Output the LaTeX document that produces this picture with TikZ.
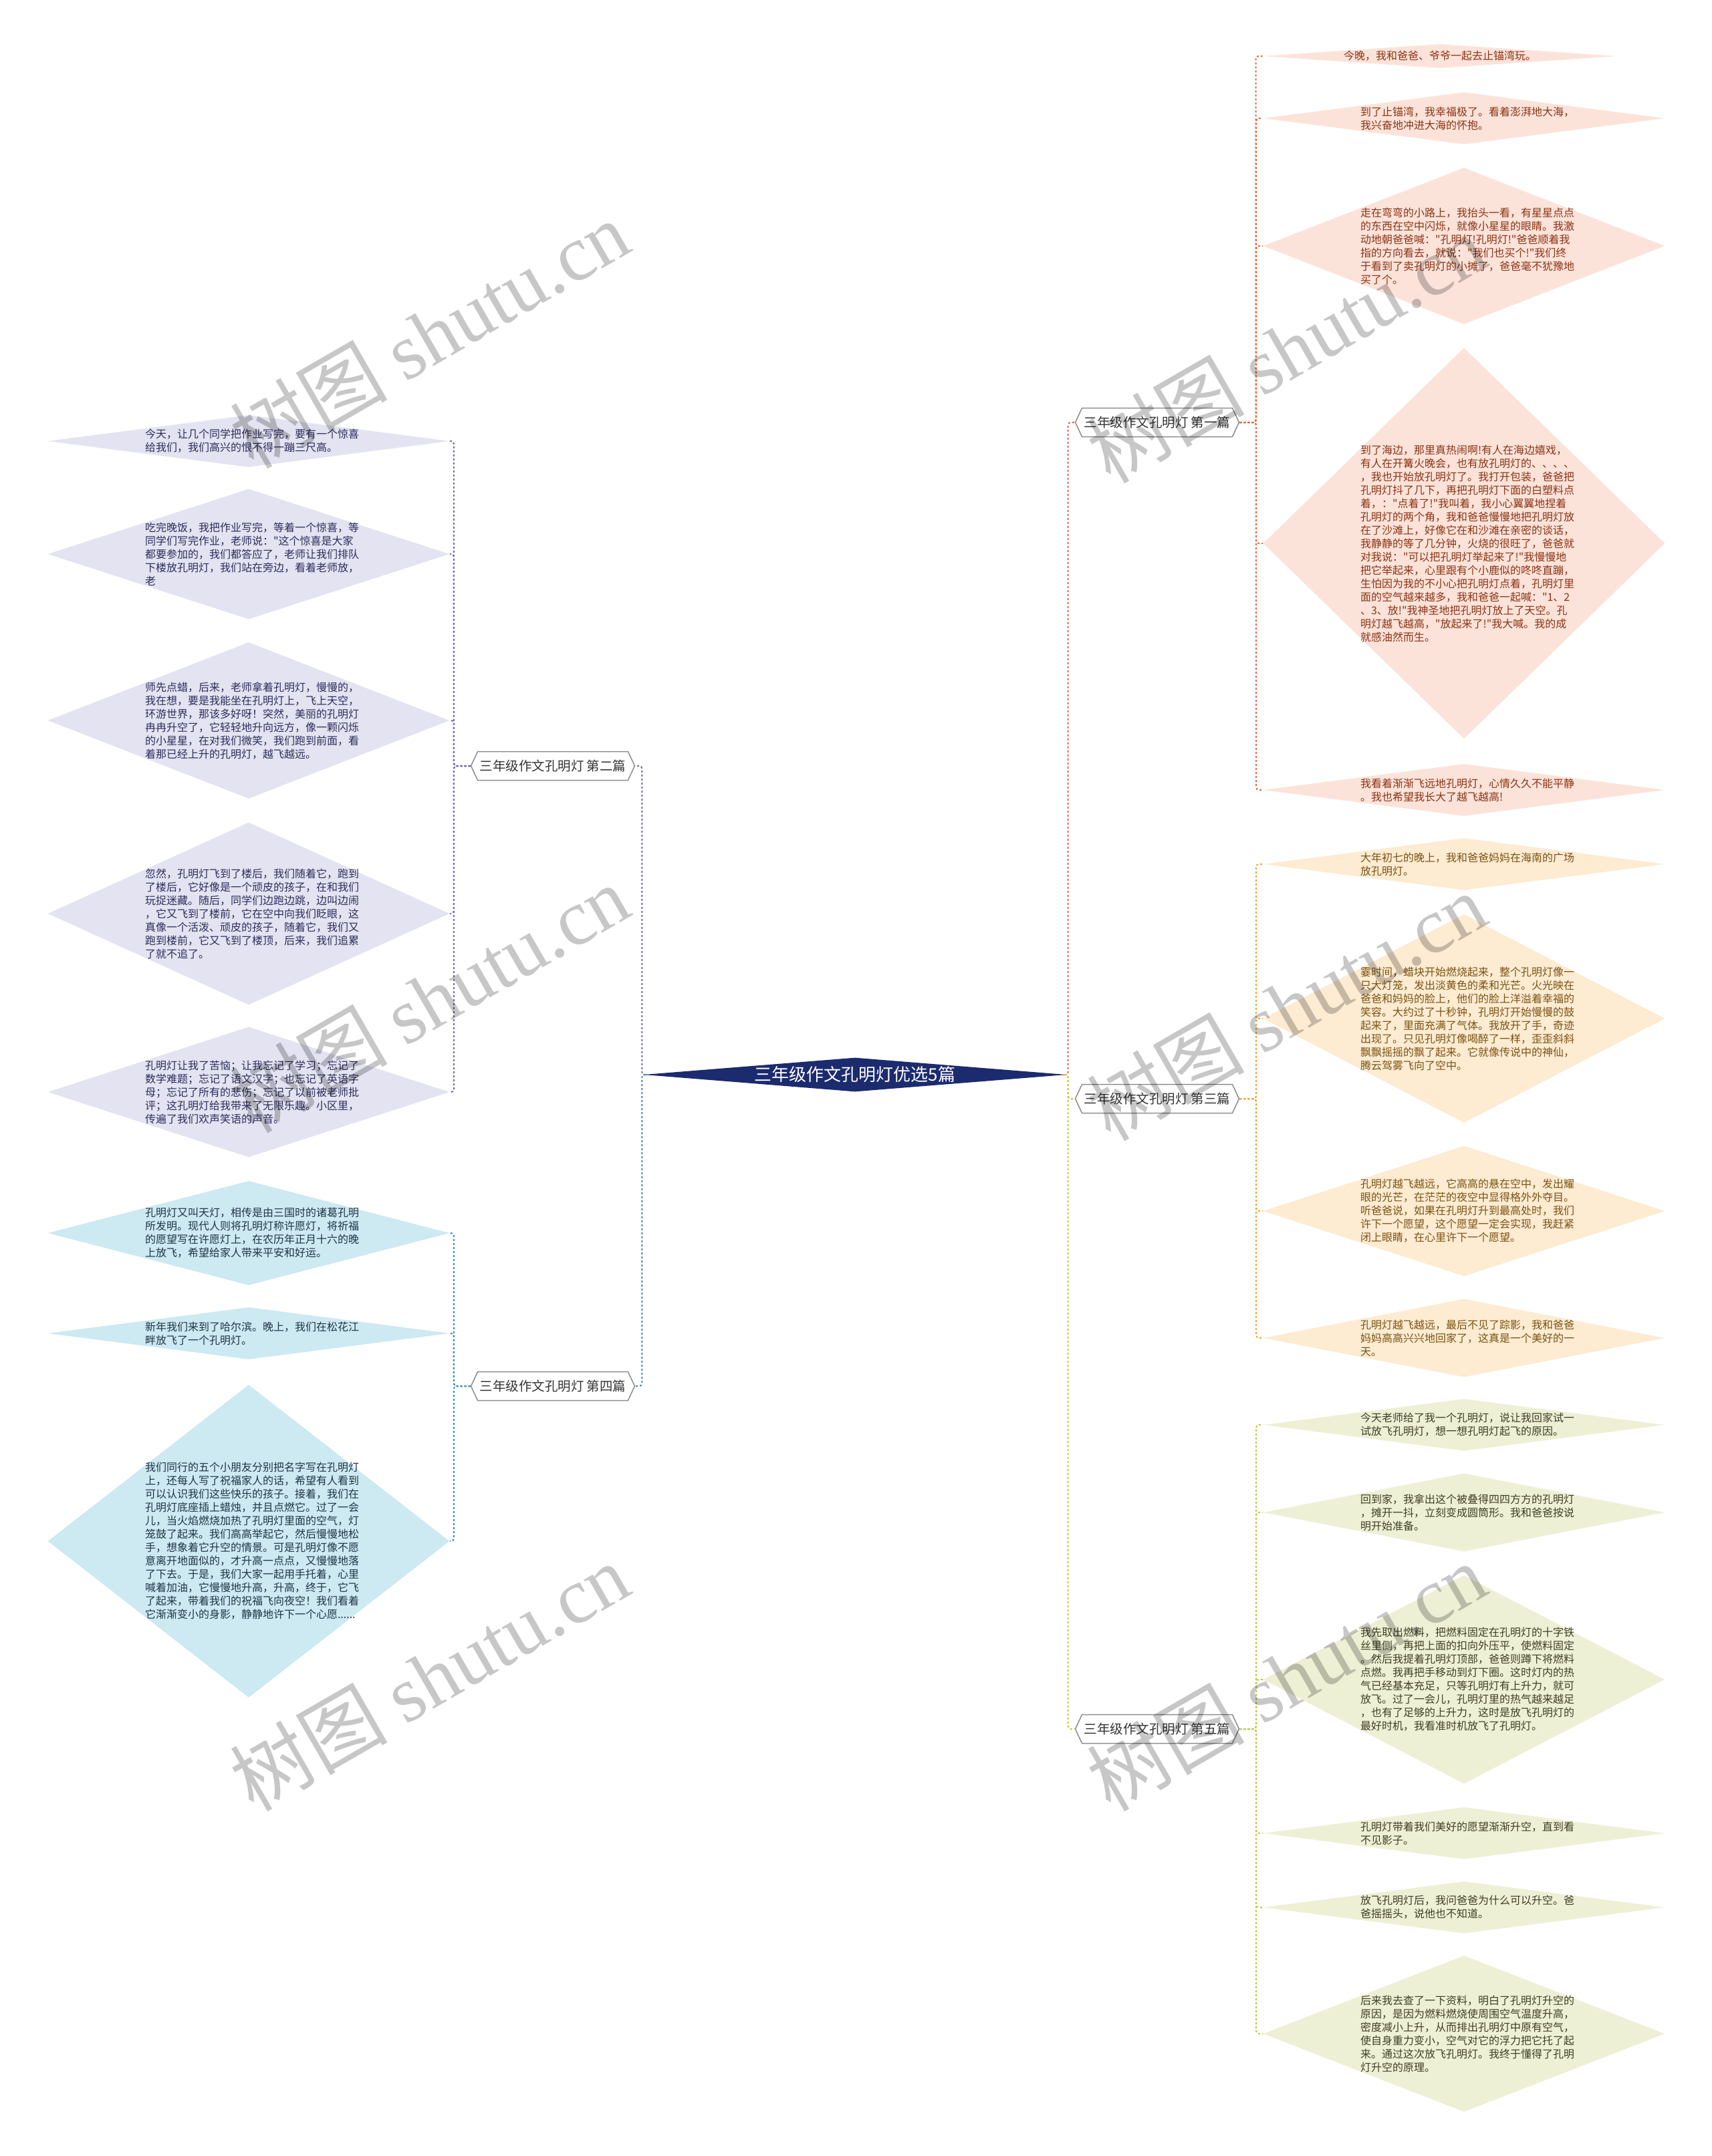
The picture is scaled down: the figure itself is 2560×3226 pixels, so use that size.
\documentclass[tikz,border=0pt]{standalone}
\usepackage{fontspec}
\setmainfont{Noto Sans CJK SC}
\newfontfamily\leaffont{Noto Sans CJK SC}
\newfontfamily\marklatin{Liberation Serif}
\usetikzlibrary{shapes.geometric}
\usetikzlibrary{shapes.symbols}
\tikzset{every picture/.style={line width=0.75pt}}

\definecolor{rootfill}{HTML}{1C2A6E}
\definecolor{peachfill}{HTML}{FCE3D9}
\definecolor{peachtext}{HTML}{8A3214}
\definecolor{peachline}{HTML}{E8673F}
\definecolor{yellowfill}{HTML}{FDEBD2}
\definecolor{yellowtext}{HTML}{7A5212}
\definecolor{yellowline}{HTML}{F0A531}
\definecolor{greenfill}{HTML}{EEF0D6}
\definecolor{greentext}{HTML}{3E3E22}
\definecolor{greenline}{HTML}{C3C93C}
\definecolor{lilacfill}{HTML}{E3E3F1}
\definecolor{lilactext}{HTML}{2C2C5C}
\definecolor{lilacline}{HTML}{6C6CB8}
\definecolor{bluefill}{HTML}{CDE9F2}
\definecolor{bluetext}{HTML}{1E3446}
\definecolor{blueline}{HTML}{3A8DB6}
\definecolor{framegray}{HTML}{8C8C8C}

\tikzset{
  leaf/.style={diamond, inner sep=0pt, minimum width=601pt},
  leaftext/.style={inner sep=0pt, font=\leaffont\fontsize{16}{20}\selectfont},
  leafpar/.style={leaftext, text width=310pt, align=left},
  branch/.style={signal, signal to=east and west, signal pointer angle=130, draw=framegray, line width=1.5pt, fill=white, minimum width=241pt, minimum height=43pt, inner sep=3pt, font=\fontsize{19.5}{22}\selectfont, text=black!80},
  link/.style={dash pattern=on 3pt off 3pt, line width=2pt, rounded corners=4pt},
  wmark/.style={rotate=30, text=black, text opacity=0.22, font=\fontsize{118}{122}\selectfont, inner sep=0pt},
}

\begin{document}
\begin{tikzpicture}[x=1pt,y=1pt,yscale=-1,xscale=1]
\useasboundingbox (0,0) rectangle (2560,3226);

% Root
\node[diamond, fill=rootfill, inner sep=0pt, minimum width=632pt, minimum height=51pt] (root) at (1279,1608) {};
\node[text=white, font=\fontsize{26}{29}\selectfont, inner sep=0pt] (roottext) at (root) {三年级作文孔明灯优选5篇};

% Branches
\node[branch] (b1) at (1731,632) {三年级作文孔明灯 第一篇};
\node[branch] (b2) at (827,1146) {三年级作文孔明灯 第二篇};
\node[branch] (b3) at (1731,1644) {三年级作文孔明灯 第三篇};
\node[branch] (b4) at (827,2074) {三年级作文孔明灯 第四篇};
\node[branch] (b5) at (1731,2587) {三年级作文孔明灯 第五篇};

\draw[link, peachline] (root.east) -| ([xshift=-10pt]b1.west) -- (b1.west);
\draw[link, yellowline] (root.east) -| ([xshift=-10pt]b3.west) -- (b3.west);
\draw[link, greenline] (root.east) -| ([xshift=-10pt]b5.west) -- (b5.west);
\draw[link, lilacline] (root.west) -| ([xshift=10pt]b2.east) -- (b2.east);
\draw[link, blueline] (root.west) -| ([xshift=10pt]b4.east) -- (b4.east);

% First
\node[leaf, fill=peachfill, minimum width=530pt, minimum height=36pt] (a1) at (2154,84) {};
\node[leaftext, text=peachtext] (a1t) at (a1) {今晚，我和爸爸、爷爷一起去止锚湾玩。};
\node[leaf, fill=peachfill, minimum height=78pt] (a2) at (2190,177) {};
\node[leafpar, text=peachtext] (a2t) at (a2) {到了止锚湾，我幸福极了。看着澎湃地大海，\\我兴奋地冲进大海的怀抱。};
\node[leaf, fill=peachfill, minimum height=234pt] (a3) at (2190,368) {};
\node[leafpar, text=peachtext] (a3t) at (a3) {走在弯弯的小路上，我抬头一看，有星星点点\\的东西在空中闪烁，就像小星星的眼睛。我激\\动地朝爸爸喊："孔明灯!孔明灯!"爸爸顺着我\\指的方向看去，就说："我们也买个!"我们终\\于看到了卖孔明灯的小摊了，爸爸毫不犹豫地\\买了个。};
\node[leaf, fill=peachfill, minimum height=585pt] (a4) at (2190,813) {};
\node[leafpar, text=peachtext] (a4t) at (a4) {到了海边，那里真热闹啊!有人在海边嬉戏，\\有人在开篝火晚会，也有放孔明灯的、、、、\\，我也开始放孔明灯了。我打开包装，爸爸把\\孔明灯抖了几下，再把孔明灯下面的白塑料点\\着，："点着了!"我叫着，我小心翼翼地捏着\\孔明灯的两个角，我和爸爸慢慢地把孔明灯放\\在了沙滩上，好像它在和沙滩在亲密的谈话，\\我静静的等了几分钟，火烧的很旺了，爸爸就\\对我说："可以把孔明灯举起来了!"我慢慢地\\把它举起来，心里跟有个小鹿似的咚咚直蹦，\\生怕因为我的不小心把孔明灯点着，孔明灯里\\面的空气越来越多，我和爸爸一起喊："1、2\\、3、放!"我神圣地把孔明灯放上了天空。孔\\明灯越飞越高，"放起来了!"我大喊。我的成\\就感油然而生。};
\node[leaf, fill=peachfill, minimum height=78pt] (a5) at (2190,1182) {};
\node[leafpar, text=peachtext] (a5t) at (a5) {我看着渐渐飞远地孔明灯，心情久久不能平静\\。我也希望我长大了越飞越高!};
\draw[link, peachline] (b1.east) -| ([xshift=-10pt]a1.west) -- (a1.west);
\draw[link, peachline] (b1.east) -| ([xshift=-10pt]a2.west) -- (a2.west);
\draw[link, peachline] (b1.east) -| ([xshift=-10pt]a3.west) -- (a3.west);
\draw[link, peachline] (b1.east) -| ([xshift=-10pt]a4.west) -- (a4.west);
\draw[link, peachline] (b1.east) -| ([xshift=-10pt]a5.west) -- (a5.west);

% Third
\node[leaf, fill=yellowfill, minimum height=78pt] (c1) at (2190,1293) {};
\node[leafpar, text=yellowtext] (c1t) at (c1) {大年初七的晚上，我和爸爸妈妈在海南的广场\\放孔明灯。};
\node[leaf, fill=yellowfill, minimum height=312pt] (c2) at (2190,1524) {};
\node[leafpar, text=yellowtext] (c2t) at (c2) {霎时间，蜡块开始燃烧起来，整个孔明灯像一\\只大灯笼，发出淡黄色的柔和光芒。火光映在\\爸爸和妈妈的脸上，他们的脸上洋溢着幸福的\\笑容。大约过了十秒钟，孔明灯开始慢慢的鼓\\起来了，里面充满了气体。我放开了手，奇迹\\出现了。只见孔明灯像喝醉了一样，歪歪斜斜\\飘飘摇摇的飘了起来。它就像传说中的神仙，\\腾云驾雾飞向了空中。};
\node[leaf, fill=yellowfill, minimum height=195pt] (c3) at (2190,1812) {};
\node[leafpar, text=yellowtext] (c3t) at (c3) {孔明灯越飞越远，它高高的悬在空中，发出耀\\眼的光芒，在茫茫的夜空中显得格外外夺目。\\听爸爸说，如果在孔明灯升到最高处时，我们\\许下一个愿望，这个愿望一定会实现，我赶紧\\闭上眼睛，在心里许下一个愿望。};
\node[leaf, fill=yellowfill, minimum height=117pt] (c4) at (2190,2002) {};
\node[leafpar, text=yellowtext] (c4t) at (c4) {孔明灯越飞越远，最后不见了踪影，我和爸爸\\妈妈高高兴兴地回家了，这真是一个美好的一\\天。};
\draw[link, yellowline] (b3.east) -| ([xshift=-10pt]c1.west) -- (c1.west);
\draw[link, yellowline] (b3.east) -| ([xshift=-10pt]c2.west) -- (c2.west);
\draw[link, yellowline] (b3.east) -| ([xshift=-10pt]c3.west) -- (c3.west);
\draw[link, yellowline] (b3.east) -| ([xshift=-10pt]c4.west) -- (c4.west);

% Fifth
\node[leaf, fill=greenfill, minimum height=78pt] (e1) at (2190,2132) {};
\node[leafpar, text=greentext] (e1t) at (e1) {今天老师给了我一个孔明灯，说让我回家试一\\试放飞孔明灯，想一想孔明灯起飞的原因。};
\node[leaf, fill=greenfill, minimum height=117pt] (e2) at (2190,2263) {};
\node[leafpar, text=greentext] (e2t) at (e2) {回到家，我拿出这个被叠得四四方方的孔明灯\\，摊开一抖，立刻变成圆筒形。我和爸爸按说\\明开始准备。};
\node[leaf, fill=greenfill, minimum height=312pt] (e3) at (2190,2513) {};
\node[leafpar, text=greentext] (e3t) at (e3) {我先取出燃料，把燃料固定在孔明灯的十字铁\\丝里侧，再把上面的扣向外压平，使燃料固定\\。然后我提着孔明灯顶部，爸爸则蹲下将燃料\\点燃。我再把手移动到灯下圈。这时灯内的热\\气已经基本充足，只等孔明灯有上升力，就可\\放飞。过了一会儿，孔明灯里的热气越来越足\\，也有了足够的上升力，这时是放飞孔明灯的\\最好时机，我看准时机放飞了孔明灯。};
\node[leaf, fill=greenfill, minimum height=78pt] (e4) at (2190,2743) {};
\node[leafpar, text=greentext] (e4t) at (e4) {孔明灯带着我们美好的愿望渐渐升空，直到看\\不见影子。};
\node[leaf, fill=greenfill, minimum height=78pt] (e5) at (2190,2854) {};
\node[leafpar, text=greentext] (e5t) at (e5) {放飞孔明灯后，我问爸爸为什么可以升空。爸\\爸摇摇头，说他也不知道。};
\node[leaf, fill=greenfill, minimum height=234pt] (e6) at (2190,3043) {};
\node[leafpar, text=greentext] (e6t) at (e6) {后来我去查了一下资料，明白了孔明灯升空的\\原因，是因为燃料燃烧使周围空气温度升高，\\密度减小上升，从而排出孔明灯中原有空气，\\使自身重力变小，空气对它的浮力把它托了起\\来。通过这次放飞孔明灯。我终于懂得了孔明\\灯升空的原理。};
\draw[link, greenline] (b5.east) -| ([xshift=-10pt]e1.west) -- (e1.west);
\draw[link, greenline] (b5.east) -| ([xshift=-10pt]e2.west) -- (e2.west);
\draw[link, greenline] (b5.east) -| ([xshift=-10pt]e3.west) -- (e3.west);
\draw[link, greenline] (b5.east) -| ([xshift=-10pt]e4.west) -- (e4.west);
\draw[link, greenline] (b5.east) -| ([xshift=-10pt]e5.west) -- (e5.west);
\draw[link, greenline] (b5.east) -| ([xshift=-10pt]e6.west) -- (e6.west);

% Second
\node[leaf, fill=lilacfill, minimum height=78pt] (d1) at (372,660) {};
\node[leafpar, text=lilactext] (d1t) at (d1) {今天，让几个同学把作业写完，要有一个惊喜\\给我们，我们高兴的恨不得一蹦三尺高。};
\node[leaf, fill=lilacfill, minimum height=195pt] (d2) at (372,829) {};
\node[leafpar, text=lilactext] (d2t) at (d2) {吃完晚饭，我把作业写完，等着一个惊喜，等\\同学们写完作业，老师说："这个惊喜是大家\\都要参加的，我们都答应了，老师让我们排队\\下楼放孔明灯，我们站在旁边，看着老师放，\\老};
\node[leaf, fill=lilacfill, minimum height=234pt] (d3) at (372,1078) {};
\node[leafpar, text=lilactext] (d3t) at (d3) {师先点蜡，后来，老师拿着孔明灯，慢慢的，\\我在想，要是我能坐在孔明灯上，飞上天空，\\环游世界，那该多好呀！突然，美丽的孔明灯\\冉冉升空了，它轻轻地升向远方，像一颗闪烁\\的小星星，在对我们微笑，我们跑到前面，看\\着那已经上升的孔明灯，越飞越远。};
\node[leaf, fill=lilacfill, minimum height=273pt] (d4) at (372,1367) {};
\node[leafpar, text=lilactext] (d4t) at (d4) {忽然，孔明灯飞到了楼后，我们随着它，跑到\\了楼后，它好像是一个顽皮的孩子，在和我们\\玩捉迷藏。随后，同学们边跑边跳，边叫边闹\\，它又飞到了楼前，它在空中向我们眨眼，这\\真像一个活泼、顽皮的孩子，随着它，我们又\\跑到楼前，它又飞到了楼顶，后来，我们追累\\了就不追了。};
\node[leaf, fill=lilacfill, minimum height=195pt] (d5) at (372,1634) {};
\node[leafpar, text=lilactext] (d5t) at (d5) {孔明灯让我了苦恼；让我忘记了学习；忘记了\\数学难题；忘记了语文汉字；也忘记了英语字\\母；忘记了所有的悲伤；忘记了以前被老师批\\评；这孔明灯给我带来了无限乐趣。小区里，\\传遍了我们欢声笑语的声音。};
\draw[link, lilacline] (b2.west) -| ([xshift=6pt]d1.east) -- (d1.east);
\draw[link, lilacline] (b2.west) -| ([xshift=6pt]d2.east) -- (d2.east);
\draw[link, lilacline] (b2.west) -| ([xshift=6pt]d3.east) -- (d3.east);
\draw[link, lilacline] (b2.west) -| ([xshift=6pt]d4.east) -- (d4.east);
\draw[link, lilacline] (b2.west) -| ([xshift=6pt]d5.east) -- (d5.east);

% Fourth
\node[leaf, fill=bluefill, minimum height=156pt] (f1) at (372,1845) {};
\node[leafpar, text=bluetext] (f1t) at (f1) {孔明灯又叫天灯，相传是由三国时的诸葛孔明\\所发明。现代人则将孔明灯称许愿灯，将祈福\\的愿望写在许愿灯上，在农历年正月十六的晚\\上放飞，希望给家人带来平安和好运。};
\node[leaf, fill=bluefill, minimum height=78pt] (f2) at (372,1995) {};
\node[leafpar, text=bluetext] (f2t) at (f2) {新年我们来到了哈尔滨。晚上，我们在松花江\\畔放飞了一个孔明灯。};
\node[leaf, fill=bluefill, minimum height=468pt] (f3) at (372,2306) {};
\node[leafpar, text=bluetext] (f3t) at (f3) {我们同行的五个小朋友分别把名字写在孔明灯\\上，还每人写了祝福家人的话，希望有人看到\\可以认识我们这些快乐的孩子。接着，我们在\\孔明灯底座插上蜡烛，并且点燃它。过了一会\\儿，当火焰燃烧加热了孔明灯里面的空气，灯\\笼鼓了起来。我们高高举起它，然后慢慢地松\\手，想象着它升空的情景。可是孔明灯像不愿\\意离开地面似的，才升高一点点，又慢慢地落\\了下去。于是，我们大家一起用手托着，心里\\喊着加油，它慢慢地升高，升高，终于，它飞\\了起来，带着我们的祝福飞向夜空！我们看着\\它渐渐变小的身影，静静地许下一个心愿......};
\draw[link, blueline] (b4.west) -| ([xshift=6pt]f1.east) -- (f1.east);
\draw[link, blueline] (b4.west) -| ([xshift=6pt]f2.east) -- (f2.east);
\draw[link, blueline] (b4.west) -| ([xshift=6pt]f3.east) -- (f3.east);

% Watermarks
\node[wmark] (w1) at (642,500) {树图 {\marklatin shutu.cn}};
\node[wmark] (w2) at (1924,522) {树图 {\marklatin shutu.cn}};
\node[wmark] (w3) at (642,1494) {树图 {\marklatin shutu.cn}};
\node[wmark] (w4) at (1924,1506) {树图 {\marklatin shutu.cn}};
\node[wmark] (w5) at (642,2509) {树图 {\marklatin shutu.cn}};
\node[wmark] (w6) at (1924,2509) {树图 {\marklatin shutu.cn}};
\end{tikzpicture}
\end{document}
